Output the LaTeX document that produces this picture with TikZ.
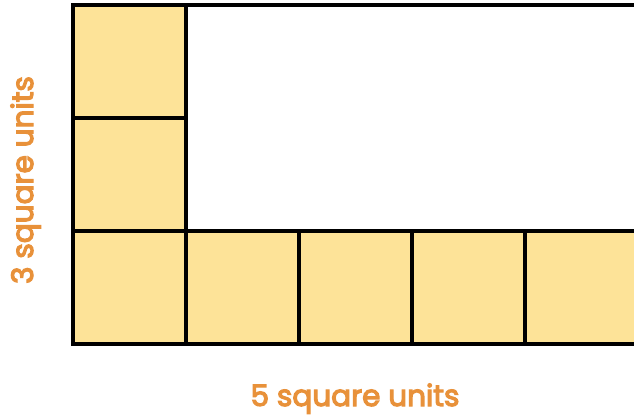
\documentclass[tikz,border=0pt]{standalone}
\usepackage{fontspec}
\newfontfamily\labfont{Poppins}[FakeBold=4]
\definecolor{cellfill}{HTML}{FDE398}
\definecolor{labcol}{HTML}{E8913A}
\begin{document}
\begin{tikzpicture}[x=1pt,y=-1pt,
  cell/.style={fill=cellfill,draw=black,line width=3.5pt},
  lab/.style={text=labcol,font=\labfont\fontsize{29.5}{36}\selectfont,inner sep=0pt}]
\useasboundingbox (0,0) rectangle (634,418);
\begin{scope}
\clip (0,0) rectangle (634,418);
\draw[line width=3.5pt] (73,5) rectangle (650,344);
\foreach \r in {0,1,2} {\draw[cell] (73,{5+113*\r}) rectangle ++(113,113);}
\foreach \c in {1,2,3,4} {\draw[cell] ({73+113*\c},231) rectangle ++(113,113);}
\draw[line width=3.5pt] (73,5) -- (650,5);
\end{scope}
\node[lab,anchor=base] (bottom) at (355,406) {5 square units};
\node[lab,anchor=base,rotate=90] (left) at (33,180) {3 square units};
\end{tikzpicture}
\end{document}
